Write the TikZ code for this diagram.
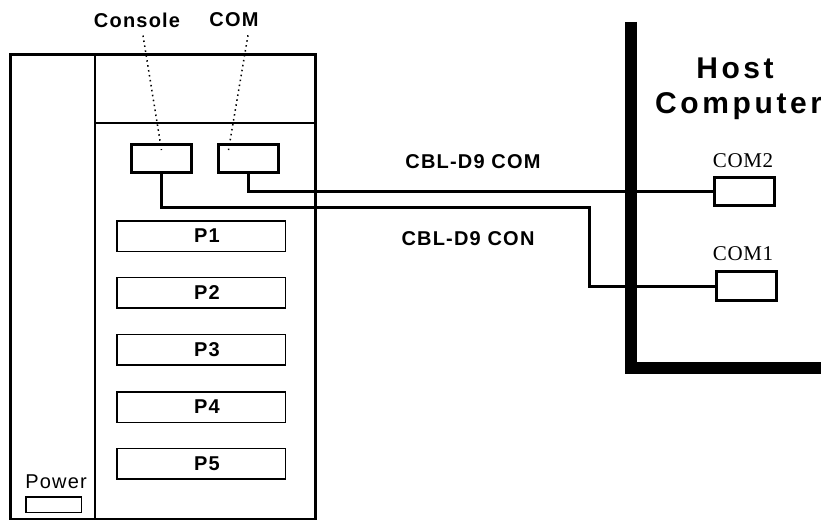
\documentclass[tikz,border=0pt]{standalone}
\usepackage{fontspec}
\setmainfont{Liberation Sans}
\newfontfamily\spfont[LetterSpace=6]{Liberation Sans}
\newfontfamily\hostfont[LetterSpace=12]{Liberation Sans}
\newfontfamily\tmfont[LetterSpace=3]{Liberation Serif}
\begin{document}
\begin{tikzpicture}[x=1pt,y=-1pt,
  lbl/.style={inner sep=0pt,font=\spfont\bfseries\fontsize{20}{22}\selectfont},
  hostlbl/.style={inner sep=0pt,font=\hostfont\bfseries\fontsize{30}{34}\selectfont},
  plain/.style={inner sep=0pt,font=\spfont\fontsize{20}{22}\selectfont},
  serif/.style={inner sep=0pt,font=\tmfont\fontsize{21}{23}\selectfont},
  portbox/.style={draw,line width=3pt,minimum width=60pt,minimum height=28pt,inner sep=0pt},
  slotbox/.style={draw,line width=1.5pt,minimum width=168.5pt,minimum height=30.5pt,inner sep=0pt},
  cable/.style={line width=3pt},
  hint/.style={line width=1.5pt,dash pattern=on 1.5pt off 3.5pt},
]
\useasboundingbox (0,0) rectangle (821,519);
% PLC frame
\draw[line width=3pt] (10,55) rectangle (315,519.5);
\draw[line width=2pt] (95,55) -- (95,519);
\draw[line width=2pt] (95,123) -- (315,123);
% ports
\node[portbox] (con) at (161.5,158.5) {};
\node[portbox] (com) at (248.5,158.5) {};
\node[lbl] (conlbl) at (137,20) {Console};
\node[lbl] (comlbl) at (234,20) {COM};
\draw[hint] ([xshift=6pt]conlbl.south) ++(0,8) -- ([yshift=-7pt]con.north);
\draw[hint] ([xshift=14pt]comlbl.south) ++(0,8) -- ([xshift=-20pt,yshift=-7pt]com.north);
% slots
\foreach \i/\y in {1/236,2/292.5,3/349.5,4/407,5/463.5}{
  \node[slotbox] (p\i) at (201,\y) {};
  \node[lbl] (p\i lbl) at ([xshift=6pt]p\i.center) {P\i};
}
% power
\node[plain] (pwrlbl) at (56,482) {Power};
\node[draw,line width=1.5pt,minimum width=55.5pt,minimum height=15.5pt,inner sep=0pt] (pwr) at (53.5,504.5) {};
% host computer
\draw[line width=12pt,line join=miter] (631,22) -- (631,367.5) -- (830,367.5);
\node[hostlbl] (host) at (735,68) {Host};
\node[hostlbl,anchor=west] (hostc) at (655,106) {Computer};
\node[portbox] (com2) at (744.5,191) {};
\node[portbox,minimum height=29pt] (com1) at (746,286) {};
\node[serif] (com2lbl) at (743,161) {COM2};
\node[serif] (com1lbl) at (743,254) {COM1};
% cables
\coordinate (bend) at (589,207);
\draw[cable] (com.south) |- (com2.west);
\draw[cable] (con.south) |- (bend) |- (com1.west);
\node[lbl] (cblcom) at (473,162) {CBL-D9 COM};
\node[lbl] (cblcon) at (468,239) {CBL-D9 CON};
\end{tikzpicture}
\end{document}
